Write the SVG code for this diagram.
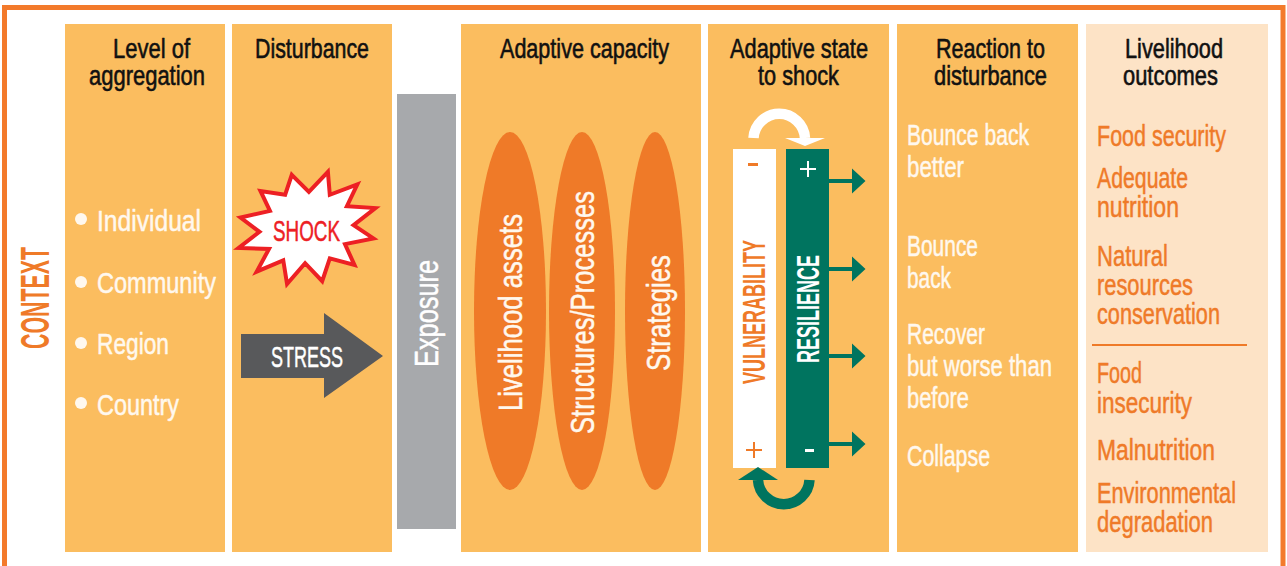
<svg xmlns="http://www.w3.org/2000/svg" width="1287" height="566" viewBox="0 0 1287 566">
<defs>
<style>
text{font-family:"Liberation Sans Narrow","Liberation Sans",Arial,sans-serif;stroke-linejoin:round;}
.panel{fill:#fbbd5f}
.light{fill:#fde3c6}
.hd{font-size:28px;fill:#111;stroke:#111;stroke-width:.6px}
.pale{font-size:29px;fill:#fff8ee;stroke:#fff8ee;stroke-width:.5px}
.org{font-size:29px;fill:#ef7a28;stroke:#ef7a28;stroke-width:.5px}
.oval{fill:#ef7a28}
.ov{font-size:33px;fill:#fff8ee;stroke:#fff8ee;stroke-width:.5px}
.teal{fill:#00745f}
.dot{fill:#fff8ee}
</style>
<path id="out" class="teal" d="M829 -2H852V-12.500L865.500 0L852 12.500V2H829Z"/>
</defs>
<rect width="1287" height="566" fill="#fff"/>
<rect x="4.500" y="7.500" width="1278.500" height="620" fill="none" stroke="#f37a2b" stroke-width="5"/>
<text transform="translate(49,349) rotate(-90)" textLength="102" lengthAdjust="spacingAndGlyphs" style="font-size:41px;font-weight:bold;fill:#ef7a28">CONTEXT</text>
<g id="level">
<rect class="panel" x="65" y="24" width="160" height="528"/>
<text class="hd" x="113" y="58" textLength="77" lengthAdjust="spacingAndGlyphs">Level of</text>
<text class="hd" x="89" y="85" textLength="116" lengthAdjust="spacingAndGlyphs">aggregation</text>
<circle class="dot" cx="81" cy="219" r="6"/><text class="pale" x="97" y="231" textLength="104" lengthAdjust="spacingAndGlyphs">Individual</text>
<circle class="dot" cx="81" cy="282" r="6"/><text class="pale" x="97" y="293" textLength="119" lengthAdjust="spacingAndGlyphs">Community</text>
<circle class="dot" cx="81" cy="343" r="6"/><text class="pale" x="97" y="354" textLength="72" lengthAdjust="spacingAndGlyphs">Region</text>
<circle class="dot" cx="81" cy="403" r="6"/><text class="pale" x="97" y="415" textLength="82" lengthAdjust="spacingAndGlyphs">Country</text>
</g>
<g id="disturbance">
<rect class="panel" x="232" y="24" width="160" height="528"/>
<text class="hd" x="255" y="58" textLength="114" lengthAdjust="spacingAndGlyphs">Disturbance</text>
<polygon transform="translate(307,228) scale(.95) translate(-307,-228)" points="291,172 309,190 329,169 331,193 360,182 349,205 379,207 356,225 377,239 347,245 357,267 331,260 323,284 305,265 286,287 282,262 254,274 267,250 235,249 257,232 237,217 268,210 258,189 284,193" fill="#fff" stroke="#ed2024" stroke-width="4.200"/>
<text x="273" y="241" textLength="67" lengthAdjust="spacingAndGlyphs" style="font-size:29px;fill:#ed2024;stroke:#ed2024;stroke-width:.5px">SHOCK</text>
<polygon points="241,334 324,334 324,313 383,356 324,398 324,378 241,378" fill="#58595b"/>
<text x="271" y="367" textLength="72" lengthAdjust="spacingAndGlyphs" style="font-size:29px;fill:#fff;stroke:#fff;stroke-width:.5px">STRESS</text>
</g>
<g id="exposure">
<rect x="397" y="94" width="59" height="435" fill="#a7a9ac"/>
<text transform="translate(438,367) rotate(-90)" textLength="107" lengthAdjust="spacingAndGlyphs" style="font-size:33px;fill:#fff;stroke:#fff;stroke-width:.5px">Exposure</text>
</g>
<g id="capacity">
<rect class="panel" x="461" y="24" width="240" height="528"/>
<text class="hd" x="500" y="58" textLength="169" lengthAdjust="spacingAndGlyphs">Adaptive capacity</text>
<ellipse class="oval" cx="510" cy="311" rx="36" ry="179"/>
<ellipse class="oval" cx="582" cy="311" rx="33" ry="179"/>
<ellipse class="oval" cx="655" cy="311" rx="30" ry="179"/>
<text class="ov" transform="translate(522,411) rotate(-90)" textLength="197" lengthAdjust="spacingAndGlyphs">Livelihood assets</text>
<text class="ov" transform="translate(594,434) rotate(-90)" textLength="243" lengthAdjust="spacingAndGlyphs">Structures/Processes</text>
<text class="ov" transform="translate(670,371) rotate(-90)" textLength="116" lengthAdjust="spacingAndGlyphs">Strategies</text>
</g>
<g id="state">
<rect class="panel" x="708" y="24" width="181" height="528"/>
<text class="hd" x="730" y="58" textLength="138" lengthAdjust="spacingAndGlyphs">Adaptive state</text>
<text class="hd" x="758" y="85" textLength="81" lengthAdjust="spacingAndGlyphs">to shock</text>
</g>
<g id="vulnerability">
<rect x="733" y="149" width="43" height="319" fill="#fff"/>
<rect x="748" y="163" width="10" height="3" fill="#ef7a28"/>
<path d="M754 442v16M746 450h16" stroke="#ef7a28" stroke-width="2" fill="none"/>
<text transform="translate(765,384) rotate(-90)" textLength="144" lengthAdjust="spacingAndGlyphs" style="font-size:32px;font-weight:bold;fill:#ef7a28">VULNERABILITY</text>
</g>
<g id="resilience">
<rect class="teal" x="786" y="149" width="43" height="319"/>
<path d="M808 161v16M800 169h16" stroke="#fff" stroke-width="2" fill="none"/>
<rect x="805" y="449" width="9" height="3" fill="#fff"/>
<text transform="translate(819,363) rotate(-90)" textLength="108" lengthAdjust="spacingAndGlyphs" style="font-size:32px;font-weight:bold;fill:#fff">RESILIENCE</text>
</g>
<g id="connectors">
<use href="#out" y="181"/><use href="#out" y="269"/><use href="#out" y="356"/><use href="#out" y="444"/>
<path d="M753.500 138A25.800 25.800 0 0 1 805 138" fill="none" stroke="#fff" stroke-width="10.500"/>
<polygon points="785,138 825,138 805,146" fill="#fff"/>
<path d="M809.500 480A25.800 25.800 0 0 1 758 480" fill="none" stroke="#00745f" stroke-width="10.500"/>
<polygon points="738,480 778,480 758,467" fill="#00745f"/>
</g>
<g id="reaction">
<rect class="panel" x="897" y="24" width="181" height="528"/>
<text class="hd" x="936" y="58" textLength="109" lengthAdjust="spacingAndGlyphs">Reaction to</text>
<text class="hd" x="934" y="85" textLength="113" lengthAdjust="spacingAndGlyphs">disturbance</text>
<text class="pale" x="907" y="145" textLength="122" lengthAdjust="spacingAndGlyphs">Bounce back</text>
<text class="pale" x="907" y="177" textLength="57" lengthAdjust="spacingAndGlyphs">better</text>
<text class="pale" x="907" y="256" textLength="71" lengthAdjust="spacingAndGlyphs">Bounce</text>
<text class="pale" x="907" y="288" textLength="44" lengthAdjust="spacingAndGlyphs">back</text>
<text class="pale" x="907" y="344" textLength="78" lengthAdjust="spacingAndGlyphs">Recover</text>
<text class="pale" x="907" y="376" textLength="145" lengthAdjust="spacingAndGlyphs">but worse than</text>
<text class="pale" x="907" y="408" textLength="62" lengthAdjust="spacingAndGlyphs">before</text>
<text class="pale" x="907" y="466" textLength="83" lengthAdjust="spacingAndGlyphs">Collapse</text>
</g>
<g id="outcomes">
<rect class="light" x="1086" y="24" width="182" height="528"/>
<text class="hd" x="1125" y="58" textLength="98" lengthAdjust="spacingAndGlyphs">Livelihood</text>
<text class="hd" x="1123" y="85" textLength="95" lengthAdjust="spacingAndGlyphs">outcomes</text>
<text class="org" x="1097" y="146" textLength="129" lengthAdjust="spacingAndGlyphs">Food security</text>
<text class="org" x="1097" y="188" textLength="91" lengthAdjust="spacingAndGlyphs">Adequate</text>
<text class="org" x="1097" y="217" textLength="82" lengthAdjust="spacingAndGlyphs">nutrition</text>
<text class="org" x="1097" y="266" textLength="71" lengthAdjust="spacingAndGlyphs">Natural</text>
<text class="org" x="1097" y="295" textLength="96" lengthAdjust="spacingAndGlyphs">resources</text>
<text class="org" x="1097" y="324" textLength="123" lengthAdjust="spacingAndGlyphs">conservation</text>
<rect x="1092" y="344" width="155" height="2" fill="#ef7a28"/>
<text class="org" x="1097" y="383" textLength="45" lengthAdjust="spacingAndGlyphs">Food</text>
<text class="org" x="1097" y="413" textLength="95" lengthAdjust="spacingAndGlyphs">insecurity</text>
<text class="org" x="1097" y="460" textLength="118" lengthAdjust="spacingAndGlyphs">Malnutrition</text>
<text class="org" x="1097" y="503" textLength="139" lengthAdjust="spacingAndGlyphs">Environmental</text>
<text class="org" x="1097" y="532" textLength="116" lengthAdjust="spacingAndGlyphs">degradation</text>
</g>
</svg>
